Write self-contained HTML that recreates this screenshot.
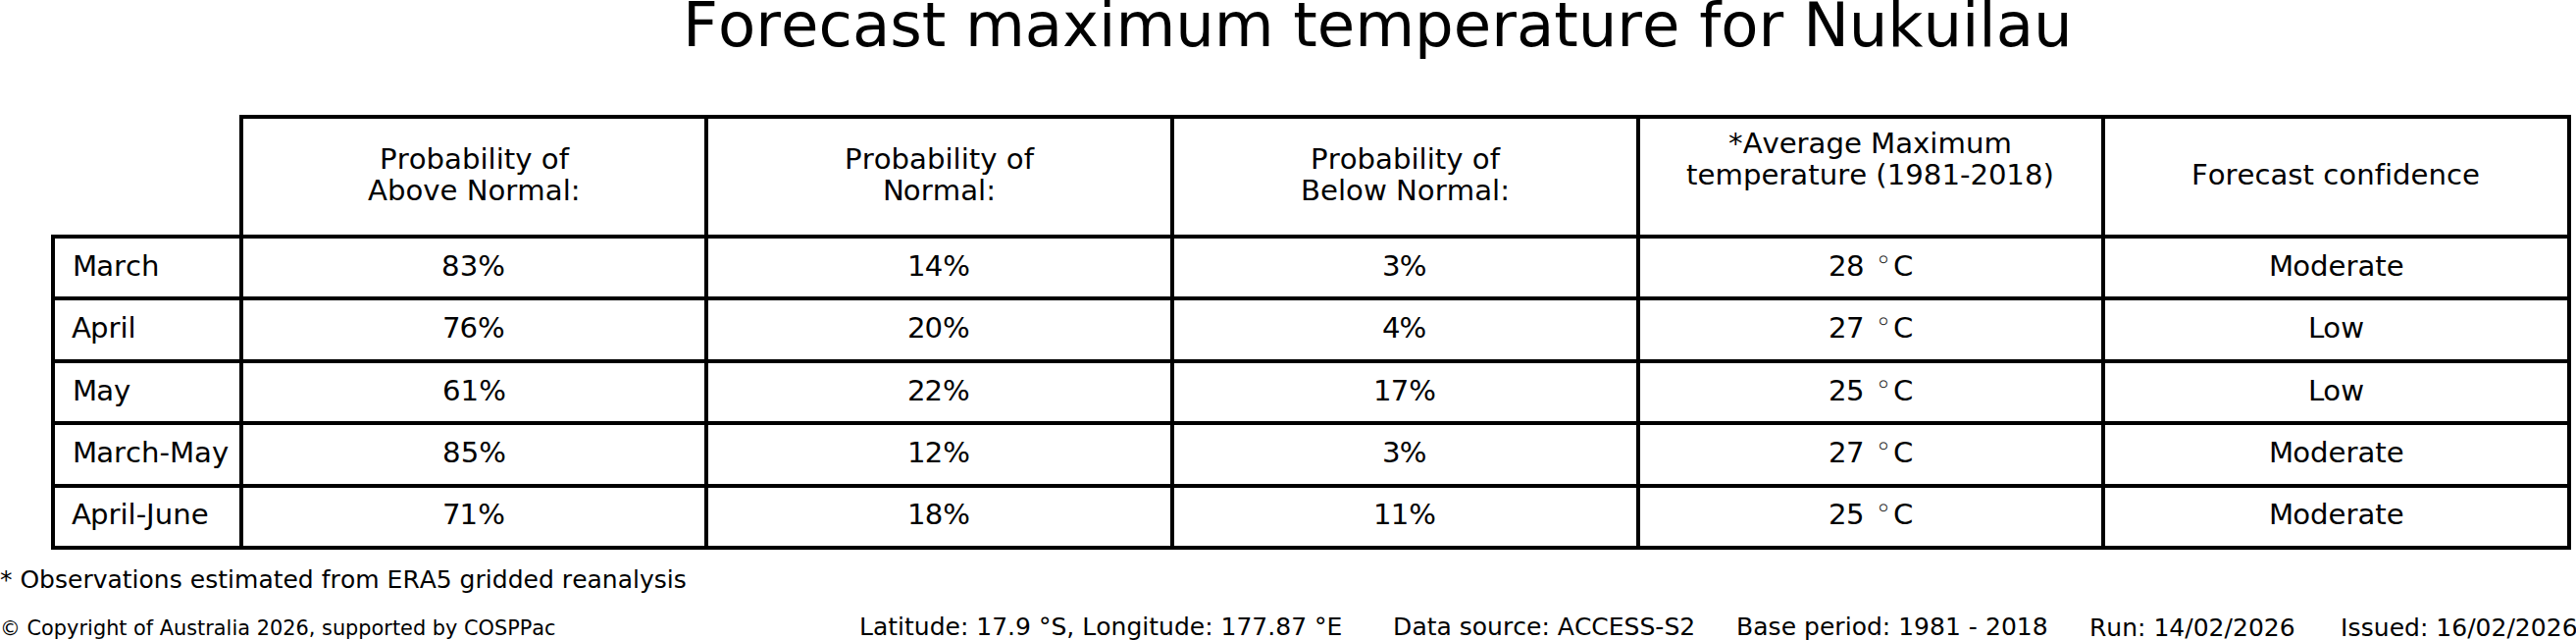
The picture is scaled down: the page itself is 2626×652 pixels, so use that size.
<!DOCTYPE html>
<html><head><meta charset="utf-8"><title>Forecast maximum temperature for Nukuilau</title>
<style>
html,body{margin:0;padding:0;background:#fff;}
body{width:2626px;height:652px;overflow:hidden;}
svg{display:block;}
text{font-family:"DejaVu Sans","Liberation Sans",sans-serif;fill:#000;font-kerning:none;white-space:pre;}
</style></head><body>
<svg width="2626" height="652" viewBox="0 0 2626 652">
<rect x="0" y="0" width="2626" height="652" fill="#fff"/>
<g fill="#000" shape-rendering="crispEdges">
<rect x="244" y="117" width="2377" height="4"/>
<rect x="52" y="239" width="2569" height="4"/>
<rect x="52" y="302" width="2569" height="4"/>
<rect x="52" y="366" width="2569" height="4"/>
<rect x="52" y="429" width="2569" height="4"/>
<rect x="52" y="493" width="2569" height="4"/>
<rect x="52" y="556" width="2569" height="4"/>
<rect x="52" y="239" width="4" height="321"/>
<rect x="244" y="117" width="4" height="443"/>
<rect x="718" y="117" width="4" height="443"/>
<rect x="1193" y="117" width="4" height="443"/>
<rect x="1668" y="117" width="4" height="443"/>
<rect x="2142" y="117" width="4" height="443"/>
<rect x="2617" y="117" width="4" height="443"/>
</g>
<g>
<text x="387.000 404.625 416.625 434.500 453.000 470.875 489.375 497.500 505.625 513.750 525.250 542.500 551.750 569.625" y="172" font-size="29.1667">Probability of</text>
<text x="375.000 394.875 413.375 431.250 448.500 466.375 475.625 497.375 515.250 527.250 555.750 573.625 581.750" y="204" font-size="29.1667">Above Normal:</text>
<text x="861.000 878.625 890.625 908.500 927.000 944.875 963.375 971.500 979.625 987.750 999.250 1016.500 1025.750 1043.625" y="172" font-size="29.1667">Probability of</text>
<text x="900.000 920.750 938.625 950.625 979.125 997.000 1005.125" y="204" font-size="29.1667">Normal:</text>
<text x="1336.000 1353.625 1365.625 1383.500 1402.000 1419.875 1438.375 1446.500 1454.625 1462.750 1474.250 1491.500 1500.750 1518.625" y="172" font-size="29.1667">Probability of</text>
<text x="1326.000 1346.000 1363.875 1372.000 1389.875 1413.750 1423.000 1444.750 1462.625 1474.625 1503.125 1521.000 1529.125" y="204" font-size="29.1667">Below Normal:</text>
<text x="1762.000 1776.625 1796.484 1813.734 1831.609 1843.609 1861.484 1879.984 1897.859 1907.109 1932.234 1950.109 1967.359 1975.484 2003.984 2022.484" y="156" font-size="29.1667">*Average Maximum</text>
<text x="1719.000 1730.500 1748.375 1776.875 1795.375 1813.250 1825.250 1843.125 1854.625 1873.125 1885.125 1903.000 1912.250 1923.625 1942.250 1960.750 1979.375 1998.000 2008.375 2026.875 2045.250 2063.875 2082.500" y="188" font-size="29.1667">temperature (1981-2018)</text>
<text x="2234.000 2250.734 2268.609 2280.609 2298.484 2314.484 2332.359 2347.609 2359.109 2368.359 2384.359 2402.234 2420.734 2430.984 2439.109 2457.609 2475.484 2493.984 2509.984" y="188" font-size="29.1667">Forecast confidence</text>
<text x="74.000 98.125 116.000 128.000 144.000" y="281" font-size="29.1667">March</text>
<text x="450.000 468.625 487.250" y="281" font-size="29.1667">83%</text>
<text x="925.000 942.625 961.125" y="281" font-size="29.1667">14%</text>
<text x="1409.000 1426.625" y="281" font-size="29.1667">3%</text>
<text x="1864 1882" y="281" font-size="29.1667">28</text>
<text x="1915.75" y="266.5" font-size="10" stroke="#000" stroke-width="0.25">○</text>
<text x="1930" y="281" font-size="29.1667">C</text>
<text x="2313.000 2337.125 2355.000 2373.500 2391.375 2403.375 2421.250 2432.750" y="281" font-size="29.1667">Moderate</text>
<text x="73.000 91.875 110.375 122.375 130.500" y="344" font-size="29.1667">April</text>
<text x="451.000 468.500 487.000" y="344" font-size="29.1667">76%</text>
<text x="925.000 942.500 960.875" y="344" font-size="29.1667">20%</text>
<text x="1409.000 1426.500" y="344" font-size="29.1667">4%</text>
<text x="1864 1882" y="344" font-size="29.1667">27</text>
<text x="1915.75" y="329.5" font-size="10" stroke="#000" stroke-width="0.25">○</text>
<text x="1930" y="344" font-size="29.1667">C</text>
<text x="2353.000 2368.250 2386.125" y="344" font-size="29.1667">Low</text>
<text x="74.000 98.125 116.000" y="408" font-size="29.1667">May</text>
<text x="451.000 469.500 488.125" y="408" font-size="29.1667">61%</text>
<text x="925.000 942.500 961.000" y="408" font-size="29.1667">22%</text>
<text x="1400.000 1417.625 1436.125" y="408" font-size="29.1667">17%</text>
<text x="1864 1882" y="408" font-size="29.1667">25</text>
<text x="1915.75" y="393.5" font-size="10" stroke="#000" stroke-width="0.25">○</text>
<text x="1930" y="408" font-size="29.1667">C</text>
<text x="2353.000 2368.250 2386.125" y="408" font-size="29.1667">Low</text>
<text x="74.000 98.125 116.000 128.000 144.000 162.500 172.875 198.000 215.875" y="471" font-size="29.1667">March-May</text>
<text x="451.000 469.625 488.125" y="471" font-size="29.1667">85%</text>
<text x="925.000 942.625 961.125" y="471" font-size="29.1667">12%</text>
<text x="1409.000 1426.625" y="471" font-size="29.1667">3%</text>
<text x="1864 1882" y="471" font-size="29.1667">27</text>
<text x="1915.75" y="456.5" font-size="10" stroke="#000" stroke-width="0.25">○</text>
<text x="1930" y="471" font-size="29.1667">C</text>
<text x="2313.000 2337.125 2355.000 2373.500 2391.375 2403.375 2421.250 2432.750" y="471" font-size="29.1667">Moderate</text>
<text x="73.000 91.875 110.375 122.375 130.500 138.625 149.016 157.641 176.141 194.641" y="534" font-size="29.1667">April-June</text>
<text x="451.000 468.500 487.125" y="534" font-size="29.1667">71%</text>
<text x="925.000 942.625 961.250" y="534" font-size="29.1667">18%</text>
<text x="1400.000 1417.625 1436.250" y="534" font-size="29.1667">11%</text>
<text x="1864 1882" y="534" font-size="29.1667">25</text>
<text x="1915.75" y="519.5" font-size="10" stroke="#000" stroke-width="0.25">○</text>
<text x="1930" y="534" font-size="29.1667">C</text>
<text x="2313.000 2337.125 2355.000 2373.500 2391.375 2403.375 2421.250 2432.750" y="534" font-size="29.1667">Moderate</text>
<text x="696.000 731.969 770.219 795.953 834.453 868.953 907.203 939.703 964.203 984.078 1044.828 1083.078 1120.078 1137.453 1198.203 1237.703 1298.453 1318.328 1342.828 1381.328 1442.078 1481.703 1520.203 1545.953 1584.203 1608.703 1648.203 1673.938 1712.438 1732.312 1754.312 1792.562 1818.312 1838.188 1884.812 1924.312 1960.422 1999.922 2017.297 2034.672 2072.922" y="47" font-size="62.5000">Forecast maximum temperature for Nukuilau</text>
<text x="0.000 12.375 20.375 40.000 55.875 69.000 84.375 94.750 109.500 124.750 134.500 141.500 156.750 172.625 185.750 193.750 209.125 222.250 232.000 239.000 263.375 278.625 288.375 303.750 319.625 327.625 336.500 346.875 362.125 386.500 394.500 410.375 427.734 444.859 460.609 468.609 484.484 494.859 501.859 517.734 533.609 548.984 564.859 572.859 583.234 598.609 613.859 629.734 644.984 651.984 666.734 679.859 686.859" y="599" font-size="25.0000">* Observations estimated from ERA5 gridded reanalysis</text>
<text x="0.000 20.875 27.500 42.000 54.750 68.000 80.375 89.000 94.875 108.125 121.250 129.375 136.000 148.750 156.125 162.750 177.000 190.125 201.000 209.125 217.750 230.500 236.375 242.250 255.000 261.625 274.875 288.125 301.375 314.750 321.375 328.000 338.875 352.000 365.250 378.500 391.250 399.875 408.000 420.875 434.125 440.750 454.000 466.375 473.000 487.500 503.875 517.125 529.625 542.125 554.875" y="647" font-size="20.8333">© Copyright of Australia 2026, supported by COSPPac</text>
<text x="876.000 890.000 905.250 915.000 922.000 931.750 947.625 963.500 978.875 987.250 995.250 1011.125 1027.000 1035.000 1050.875 1058.875 1071.375 1087.250 1095.250 1103.250 1117.250 1132.500 1148.375 1164.250 1171.250 1181.000 1196.875 1212.750 1228.125 1236.500 1244.500 1260.375 1276.250 1292.125 1300.125 1316.125 1332.000 1340.000 1352.500" y="647" font-size="25.0000">Latitude: 17.9 °S, Longitude: 177.87 °E</text>
<text x="1420.000 1439.375 1454.625 1464.375 1479.625 1487.625 1500.750 1516.000 1531.875 1542.250 1556.000 1571.375 1579.750 1587.750 1604.875 1622.250 1639.625 1655.500 1671.375 1687.250 1696.375 1712.250" y="647" font-size="25.0000">Data source: ACCESS-S2</text>
<text x="1770.000 1787.250 1802.500 1815.625 1831.000 1839.000 1854.875 1870.250 1880.625 1887.625 1902.875 1918.750 1927.125 1935.125 1951.000 1966.875 1982.875 1998.750 2006.750 2015.875 2023.875 2039.875 2055.750 2071.625" y="647" font-size="25.0000">Base period: 1981 - 2018</text>
<text x="2130.000 2147.359 2163.234 2179.109 2187.484 2195.484 2211.359 2227.359 2235.734 2251.609 2267.609 2275.984 2291.984 2307.859 2323.859" y="648" font-size="25.0000">Run: 14/02/2026</text>
<text x="2386.000 2393.500 2406.625 2419.750 2435.625 2451.000 2466.875 2475.250 2483.250 2499.125 2515.125 2523.500 2539.375 2555.375 2563.750 2579.750 2595.625 2611.625" y="648" font-size="25.0000">Issued: 16/02/2026</text>
</g>
</svg>
</body></html>
